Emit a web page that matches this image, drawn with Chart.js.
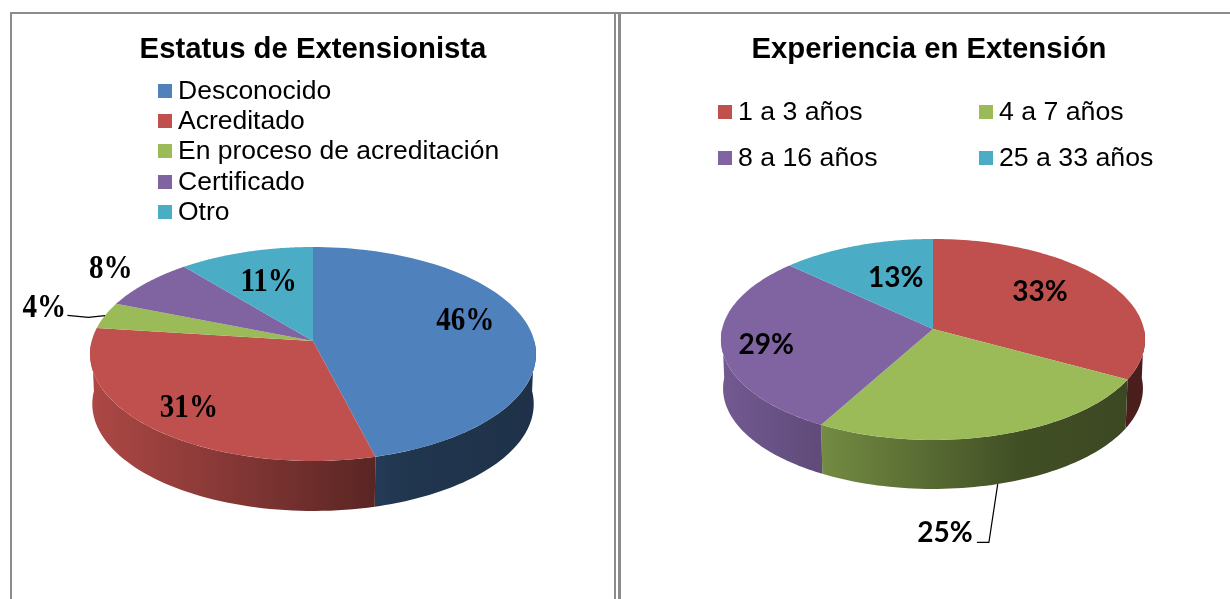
<!DOCTYPE html>
<html>
<head>
<meta charset="utf-8">
<script src="https://cdn.jsdelivr.net/npm/chart.js@4"></script>
<style>
  html, body { margin: 0; padding: 0; background: #fff; overflow: hidden; }
  canvas { position: absolute; top: 0; }
  #chartLeft { left: 0; }
  #chartRight { left: 628px; }
  .frame { position: absolute; background: #8c8c8c; }
</style>
</head>
<body>
<div class="frame" style="left:10px;top:12px;width:1220px;height:2px"></div>
<div class="frame" style="left:10px;top:12px;width:2px;height:587px"></div>
<div class="frame" style="left:614px;top:12px;width:2px;height:587px"></div>
<div class="frame" style="left:618px;top:12px;width:3px;height:587px"></div>
<canvas id="chartLeft" width="626" height="599"></canvas>
<canvas id="chartRight" width="602" height="599"></canvas>
<script>
const statusLabels = ['Desconocido', 'Acreditado', 'En proceso de acreditación', 'Certificado', 'Otro'];
const statusValues = [46, 31, 4, 8, 11];
const statusColors = ['#4f81bd', '#c0504d', '#9bbb59', '#8064a2', '#4bacc6'];

const experienceLabels = ['1 a 3 años', '4 a 7 años', '8 a 16 años', '25 a 33 años'];
const experienceValues = [33, 25, 29, 13];
const experienceColors = ['#c0504d', '#9bbb59', '#8064a2', '#4bacc6'];

// how the flat pie is tilted, plus where the texts go
const statusLook = {
    cx: 313, cy: 341, rx: 221.3, ry: 105.4, k: 0.1215, depth: 50,
    labelFont: 'bold 34px "Liberation Serif"',
    labelSquash: 0.855,
    labelShift: [[11, -11], [-23, 13], [-132, -16], [-91, -33], [1, 1]],
    leaders: { 2: [[23, 7], [44, 9]] },
    legendFont: '26.5px "Liberation Sans"',
    legendRows: [[158, 91], [158, 121], [158, 151], [158, 182], [158, 212]],
    legendBox: 14, legendGap: 20
};
const experienceLook = {
    cx: 305, cy: 329, rx: 210.9, ry: 99.4, k: 0.104, depth: 49,
    labelFont: 'bold 28px Lato',
    labelSquash: 1,
    labelShift: [[-7, -5], [-29, 138], [-30, 6], [14, 5]],
    leaders: { 1: [[32, 9], [44, 9]] },
    legendFont: '26.7px "Liberation Sans"',
    legendRows: [[90, 112], [351, 112], [90, 158], [351, 158]],
    legendBox: 14, legendGap: 20
};

function project(look, angle, r, low) {
    const u = Math.cos(angle) * r;
    const v = Math.sin(angle) * r;
    const d = 1 - look.k * v;
    const shrink = low ? 0.99 : 1;
    return {
        x: look.cx + look.rx * u / d * shrink,
        y: look.cy + look.ry * v / d + (low ? look.depth : 0)
    };
}

function shade(hex, f) {
    const n = parseInt(hex.slice(1), 16);
    const c = [n >> 16, (n >> 8) & 255, n & 255].map(function (p) { return Math.round(p * f); });
    return 'rgb(' + c.join(',') + ')';
}

const tiltedPie = {
    id: 'tiltedPie',
    beforeDatasetsDraw(chart, args, look) {
        const ctx = chart.ctx;
        const arcs = chart.getDatasetMeta(0).data;
        const left = look.cx - look.rx * 1.01;
        const width = look.rx * 2.02;

        // side wall, only the part of each slice facing us
        arcs.forEach(function (arc) {
            let from = arc.startAngle, to = arc.endAngle;
            const color = arc.options.backgroundColor;
            const parts = [[from, to], [from - 2 * Math.PI, to - 2 * Math.PI]];
            parts.forEach(function (part) {
                const a = Math.max(part[0], 0), b = Math.min(part[1], Math.PI);
                if (b <= a) return;
                const g = ctx.createLinearGradient(left, 0, left + width, 0);
                g.addColorStop(0, shade(color, 0.9));
                g.addColorStop(0.23, shade(color, 0.75));
                g.addColorStop(0.7, shade(color, 0.42));
                g.addColorStop(1, shade(color, 0.38));
                ctx.beginPath();
                for (let i = 0; i <= 60; i++) {
                    const p = project(look, a + (b - a) * i / 60, 1, false);
                    ctx.lineTo(p.x, p.y);
                }
                for (let i = 60; i >= 0; i--) {
                    const p = project(look, a + (b - a) * i / 60, 1, true);
                    ctx.lineTo(p.x, p.y);
                }
                ctx.closePath();
                ctx.fillStyle = g;
                ctx.fill();
            });
        });

        // top face
        arcs.forEach(function (arc) {
            const steps = 90;
            ctx.beginPath();
            const c = project(look, 0, 0, false);
            ctx.moveTo(c.x, c.y);
            for (let i = 0; i <= steps; i++) {
                const p = project(look, arc.startAngle + (arc.endAngle - arc.startAngle) * i / steps, 1, false);
                ctx.lineTo(p.x, p.y);
            }
            ctx.closePath();
            ctx.fillStyle = arc.options.backgroundColor;
            ctx.fill();
        });
        return false;
    },
    afterDraw(chart, args, look) {
        const ctx = chart.ctx;
        const arcs = chart.getDatasetMeta(0).data;
        const values = chart.data.datasets[0].data;
        const total = values.reduce(function (s, v) { return s + v; }, 0);
        ctx.save();
        ctx.textAlign = 'center';
        ctx.textBaseline = 'middle';
        arcs.forEach(function (arc, i) {
            const mid = (arc.startAngle + arc.endAngle) / 2;
            const p = project(look, mid, 0.65, false);
            const x = p.x + look.labelShift[i][0];
            const y = p.y + look.labelShift[i][1];
            ctx.save();
            ctx.translate(x, y);
            ctx.scale(look.labelSquash, 1);
            ctx.font = look.labelFont;
            ctx.fillStyle = '#000';
            ctx.fillText(Math.round(values[i] / total * 100) + '%', 0, 0);
            ctx.restore();

            const leader = look.leaders[i];
            if (leader) {
                const wall = mid > 0 && mid < Math.PI;
                const start = project(look, mid, 1, wall);
                ctx.beginPath();
                ctx.moveTo(x + leader[0][0], y + leader[0][1]);
                ctx.lineTo(x + leader[1][0], y + leader[1][1]);
                ctx.lineTo(start.x, start.y);
                ctx.strokeStyle = '#000';
                ctx.lineWidth = 1.2;
                ctx.stroke();
            }
        });

        // legend
        ctx.textAlign = 'left';
        chart.data.labels.forEach(function (label, i) {
            const row = look.legendRows[i];
            ctx.fillStyle = arcs[i].options.backgroundColor;
            ctx.fillRect(row[0], row[1] - look.legendBox / 2, look.legendBox, look.legendBox);
            ctx.fillStyle = '#000';
            ctx.font = look.legendFont;
            ctx.fillText(label, row[0] + look.legendGap, row[1] + 1);
        });
        ctx.restore();
    }
};

function makePie(id, titleText, labels, values, colors, look) {
    return new Chart(document.getElementById(id), {
        type: 'pie',
        data: {
            labels: labels,
            datasets: [{ data: values, backgroundColor: colors, borderWidth: 0 }]
        },
        options: {
            responsive: false,
            animation: false,
            plugins: {
                legend: { display: false },
                tooltip: { enabled: false },
                title: {
                    display: true,
                    text: titleText,
                    color: '#000',
                    font: { family: '"Liberation Sans"', size: 29.3, weight: 'bold', lineHeight: 1.2 },
                    padding: { top: 32.5, bottom: 0 }
                },
                tiltedPie: look
            }
        },
        plugins: [tiltedPie]
    });
}

makePie('chartLeft', 'Estatus de Extensionista', statusLabels, statusValues, statusColors, statusLook);
makePie('chartRight', 'Experiencia en Extensión', experienceLabels, experienceValues, experienceColors, experienceLook);
</script>
</body>
</html>
